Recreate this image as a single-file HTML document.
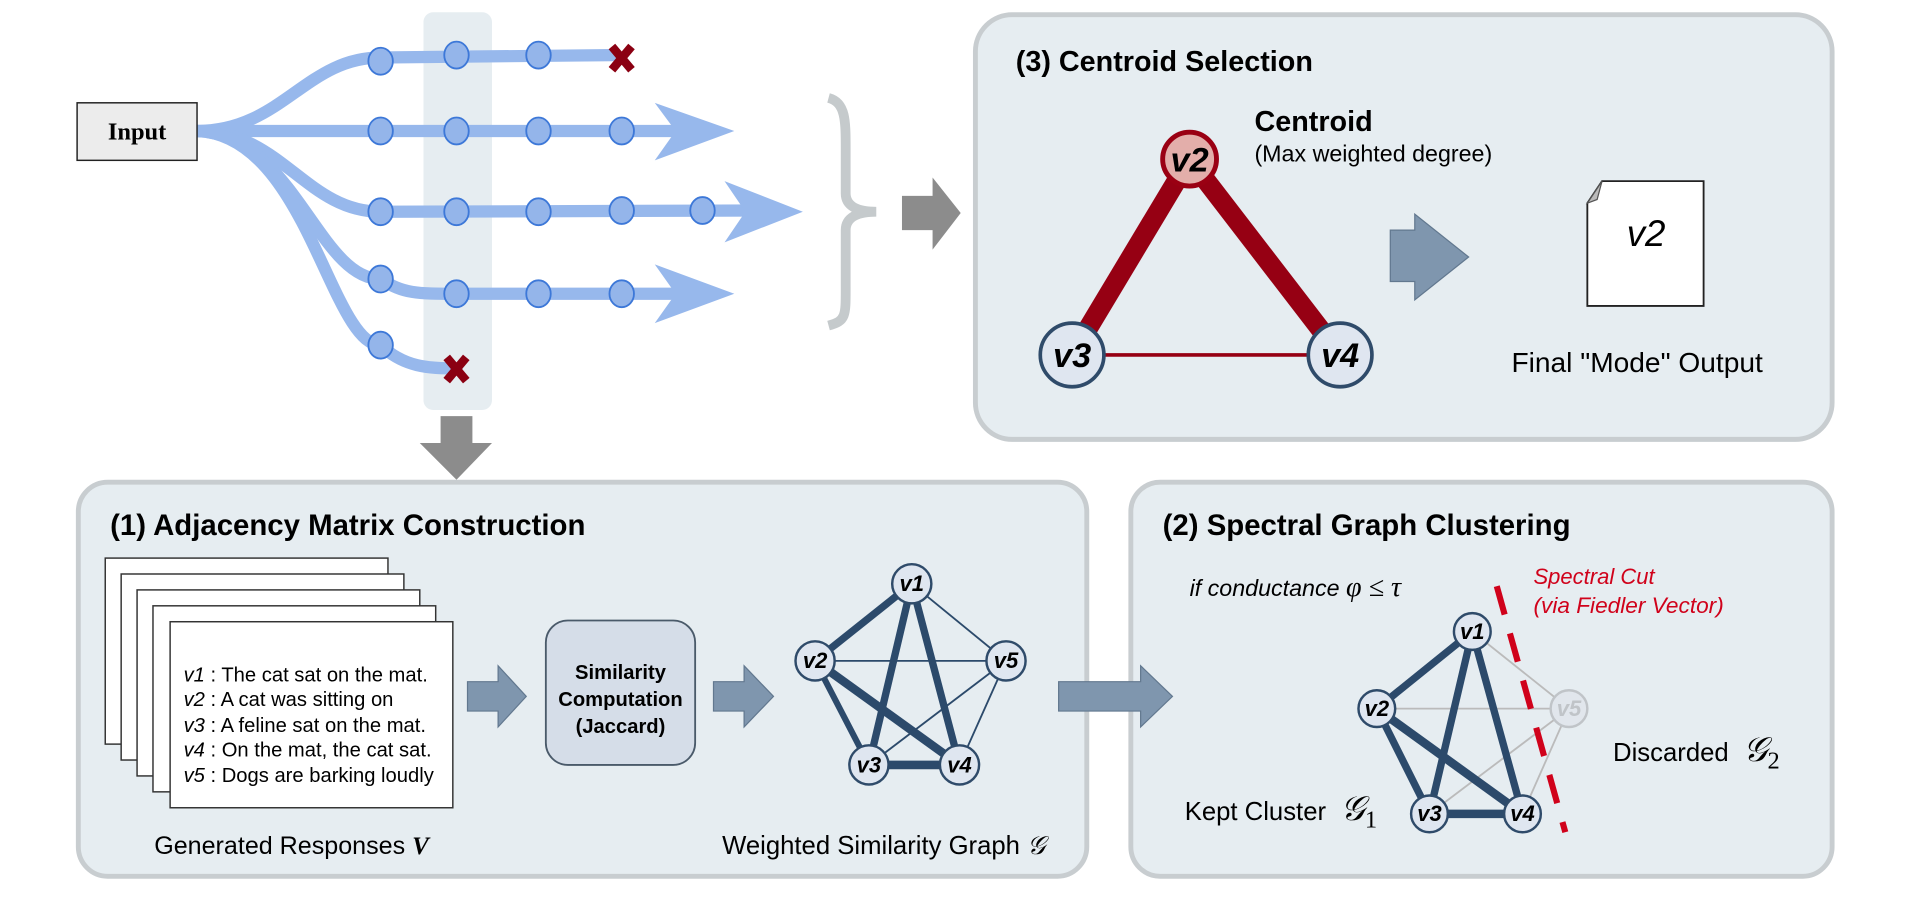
<!DOCTYPE html>
<html><head><meta charset="utf-8"><style>html,body{margin:0;padding:0;background:#fff}svg{display:block}</style></head>
<body>
<svg width="1919" height="902" viewBox="0 0 1568 737" xmlns="http://www.w3.org/2000/svg" font-family="Liberation Sans, Arial, sans-serif">
<rect x="346" y="10" width="56" height="325" rx="8" fill="#e6edf1"/>
<g fill="none" stroke="#97b8ec" stroke-width="10" stroke-linecap="round">
<path d="M161,107 C230,107 250,47 311,47 L500,45"/>
<path d="M161,107 L560,107"/>
<path d="M161,107 C230,107 250,173 311,173 L620,172"/>
<path d="M161,107 C240,110 260,228 311,228 C330,240 340,240 373,240 L560,240"/>
<path d="M161,107 C250,110 270,282 311,282 C330,300 350,301 373,301"/>
</g>
<g fill="#97b8ec">
<polygon points="535,84 600,107 535,131 552,107"/>
<polygon points="592,148 656,173 592,198 609,173"/>
<polygon points="535,216 600,240 535,264 552,240"/>
</g>
<g fill="#94b5ea" stroke="#3d78d8" stroke-width="1.5">
<ellipse cx="311" cy="50" rx="10" ry="11"/><ellipse cx="373" cy="45" rx="10" ry="11"/><ellipse cx="440" cy="45" rx="10" ry="11"/>
<ellipse cx="311" cy="107" rx="10" ry="11"/><ellipse cx="373" cy="107" rx="10" ry="11"/><ellipse cx="440" cy="107" rx="10" ry="11"/><ellipse cx="508" cy="107" rx="10" ry="11"/>
<ellipse cx="311" cy="173" rx="10" ry="11"/><ellipse cx="373" cy="173" rx="10" ry="11"/><ellipse cx="440" cy="173" rx="10" ry="11"/><ellipse cx="508" cy="172" rx="10" ry="11"/><ellipse cx="574" cy="172" rx="10" ry="11"/>
<ellipse cx="311" cy="228" rx="10" ry="11"/><ellipse cx="373" cy="240" rx="10" ry="11"/><ellipse cx="440" cy="240" rx="10" ry="11"/><ellipse cx="508" cy="240" rx="10" ry="11"/>
<ellipse cx="311" cy="282" rx="10" ry="11"/>
</g>
<g stroke="#8b0012" stroke-width="7">
<path d="M500,38 L516,57 M516,38 L500,57"/>
<path d="M365,292 L381,311 M381,292 L365,311"/>
</g>
<rect x="63" y="84" width="98" height="47" fill="#ececec" stroke="#222" stroke-width="1.2"/>
<text x="112" y="114" text-anchor="middle" font-family="Liberation Serif, serif" font-weight="bold" font-size="20">Input</text>
<path d="M677,80 C692,84 691,100 691,130 L691,158 C691,168 700,173 716,173 C700,173 691,178 691,188 L691,230 C691,258 692,262 677,266" fill="none" stroke="#c5cacc" stroke-width="8"/>
<polygon points="737,160 762,160 762,145 785,174 762,204 762,188 737,188" fill="#8c8c8c"/>
<polygon points="360,340 386,340 386,362 402,362 373,392 343,362 360,362" fill="#8c8c8c"/>

<!-- panel 3 -->
<rect x="797" y="12" width="700" height="347" rx="30" fill="#e6edf1" stroke="#c8cdd0" stroke-width="4"/>
<text x="830" y="58" font-weight="bold" font-size="23.5">(3) Centroid Selection</text>
<g stroke="#960013">
<line x1="972" y1="130" x2="876" y2="290" stroke-width="16"/>
<line x1="972" y1="130" x2="1095" y2="290" stroke-width="16"/>
<line x1="876" y1="290" x2="1095" y2="290" stroke-width="3"/>
</g>
<circle cx="972" cy="130" r="22" fill="#e3aeaa" stroke="#9a0013" stroke-width="4"/>
<circle cx="876" cy="290" r="26" fill="#dfe6f0" stroke="#2f4b6a" stroke-width="3"/>
<circle cx="1095" cy="290" r="26" fill="#dfe6f0" stroke="#2f4b6a" stroke-width="3"/>
<g font-weight="bold" font-style="italic" text-anchor="middle" font-size="28">
<text x="972" y="140">v2</text><text x="876" y="300">v3</text><text x="1095" y="300">v4</text></g>
<text x="1025" y="107" font-weight="bold" font-size="23.5">Centroid</text>
<text x="1025" y="132" font-size="19">(Max weighted degree)</text>
<polygon points="1136,188 1156,188 1156,175 1200,210 1156,245 1156,230 1136,230" fill="#7f96ae" stroke="#62788f"/>
<path d="M1309,148 L1392,148 L1392,250 L1297,250 L1297,166 Z" fill="#fff" stroke="#222" stroke-width="1.5"/>
<path d="M1297,166 L1309,148 L1305,163 Z" fill="#bbb" stroke="#555" stroke-width="1"/>
<text x="1345" y="201" text-anchor="middle" font-style="italic" font-size="30">v2</text>
<text x="1235" y="304" font-size="23">Final "Mode" Output</text>

<!-- panel 1 -->
<rect x="64" y="394" width="824" height="322" rx="24" fill="#e6edf1" stroke="#c8cdd0" stroke-width="4"/>
<text x="90" y="437" font-weight="bold" font-size="24">(1) Adjacency Matrix Construction</text>
<g fill="#fff" stroke="#333" stroke-width="1.2">
<rect x="86" y="456" width="231" height="152"/>
<rect x="99" y="469" width="231" height="152"/>
<rect x="112" y="482" width="231" height="152"/>
<rect x="125" y="495" width="231" height="152"/>
<rect x="139" y="508" width="231" height="152"/>
</g>
<g font-size="16.5">
<text x="150" y="557"><tspan font-style="italic">v1</tspan> : The cat sat on the mat.</text>
<text x="150" y="577"><tspan font-style="italic">v2</tspan> : A cat was sitting on</text>
<text x="150" y="598"><tspan font-style="italic">v3</tspan> : A feline sat on the mat.</text>
<text x="150" y="618"><tspan font-style="italic">v4</tspan> : On the mat, the cat sat.</text>
<text x="150" y="639"><tspan font-style="italic">v5</tspan> : Dogs are barking loudly</text>
</g>
<rect x="446" y="507" width="122" height="118" rx="18" fill="#d5dde8" stroke="#4a5a6a" stroke-width="1.5"/>
<g font-weight="bold" font-size="16.5" text-anchor="middle">
<text x="507" y="555">Similarity</text><text x="507" y="577">Computation</text><text x="507" y="599">(Jaccard)</text></g>
<polygon points="382,557 407,557 407,544 430,569 407,594 407,581 382,581" fill="#7f96ae" stroke="#62788f"/>
<polygon points="583,557 608,557 608,544 632,569 608,594 608,581 583,581" fill="#7f96ae" stroke="#62788f"/>
<g stroke="#2c4a6b">
<line x1="745" y1="477" x2="666" y2="540" stroke-width="6"/>
<line x1="745" y1="477" x2="710" y2="625" stroke-width="6"/>
<line x1="745" y1="477" x2="784" y2="625" stroke-width="6"/>
<line x1="666" y1="540" x2="710" y2="625" stroke-width="5"/>
<line x1="666" y1="540" x2="784" y2="625" stroke-width="7"/>
<line x1="710" y1="625" x2="784" y2="625" stroke-width="7"/>
<line x1="745" y1="477" x2="822" y2="540" stroke-width="1.5"/>
<line x1="666" y1="540" x2="822" y2="540" stroke-width="1.5"/>
<line x1="710" y1="625" x2="822" y2="540" stroke-width="1.5"/>
<line x1="784" y1="625" x2="822" y2="540" stroke-width="1.5"/>
</g>
<g fill="#dfe6f0" stroke="#2f4b6a" stroke-width="2">
<circle cx="745" cy="477" r="16"/><circle cx="666" cy="540" r="16"/><circle cx="822" cy="540" r="16"/><circle cx="710" cy="625" r="16"/><circle cx="784" cy="625" r="16"/></g>
<g font-weight="bold" font-style="italic" text-anchor="middle" font-size="18">
<text x="745" y="483">v1</text><text x="666" y="546">v2</text><text x="822" y="546">v5</text><text x="710" y="631">v3</text><text x="784" y="631">v4</text></g>
<text x="126" y="698" font-size="20.5">Generated Responses <tspan font-family="Liberation Serif, serif" font-style="italic" font-weight="bold">V</tspan></text>
<text x="590" y="698" font-size="21">Weighted Similarity Graph <tspan font-family="Liberation Serif, serif" font-style="italic">𝒢</tspan></text>

<!-- panel 2 -->
<rect x="924" y="394" width="573" height="322" rx="24" fill="#e6edf1" stroke="#c8cdd0" stroke-width="4"/>
<text x="950" y="437" font-weight="bold" font-size="24">(2) Spectral Graph Clustering</text>
<text x="972" y="487" font-style="italic" font-size="19">if conductance <tspan font-family="Liberation Serif, serif" font-size="23">φ ≤ τ</tspan></text>
<text x="1253" y="477" font-style="italic" font-size="18" fill="#d0021b">Spectral Cut</text>
<text x="1253" y="501" font-style="italic" font-size="18.5" fill="#d0021b">(via Fiedler Vector)</text>
<g stroke="#bbbbbb" stroke-width="1.5">
<line x1="1203" y1="516" x2="1282" y2="579"/><line x1="1125" y1="579" x2="1282" y2="579"/>
<line x1="1168" y1="665" x2="1282" y2="579"/><line x1="1244" y1="665" x2="1282" y2="579"/></g>
<g stroke="#2c4a6b" stroke-width="6">
<line x1="1203" y1="516" x2="1125" y2="579"/><line x1="1203" y1="516" x2="1168" y2="665"/>
<line x1="1203" y1="516" x2="1244" y2="665"/><line x1="1125" y1="579" x2="1168" y2="665"/>
<line x1="1125" y1="579" x2="1244" y2="665" stroke-width="7"/><line x1="1168" y1="665" x2="1244" y2="665" stroke-width="7"/></g>
<line x1="1223" y1="479" x2="1279" y2="680" stroke="#d0021b" stroke-width="5" stroke-dasharray="24,16"/>
<g fill="#dfe6f0" stroke="#2f4b6a" stroke-width="2">
<circle cx="1203" cy="516" r="15"/><circle cx="1125" cy="579" r="15"/><circle cx="1168" cy="665" r="15"/><circle cx="1244" cy="665" r="15"/></g>
<circle cx="1282" cy="579" r="15" fill="#e1e6ec" stroke="#c0c4c8" stroke-width="2"/>
<g font-weight="bold" font-style="italic" text-anchor="middle" font-size="18">
<text x="1203" y="522">v1</text><text x="1125" y="585">v2</text><text x="1168" y="671">v3</text><text x="1244" y="671">v4</text><text x="1282" y="585" fill="#c0c4c8">v5</text></g>
<text x="1318" y="622" font-size="21">Discarded <tspan font-family="Liberation Serif, serif" font-style="italic" font-size="28" dx="6">𝒢</tspan><tspan font-family="Liberation Serif, serif" font-size="20" dy="6">2</tspan></text>
<text x="968" y="670" font-size="21">Kept Cluster <tspan font-family="Liberation Serif, serif" font-style="italic" font-size="28" dx="6">𝒢</tspan><tspan font-family="Liberation Serif, serif" font-size="20" dy="6">1</tspan></text>
<!-- arrow panel1 -> panel2 (on top) -->
<polygon points="865,557 932,557 932,544 958,569 932,594 932,581 865,581" fill="#7f96ae" stroke="#62788f"/>
</svg>
</body></html>
